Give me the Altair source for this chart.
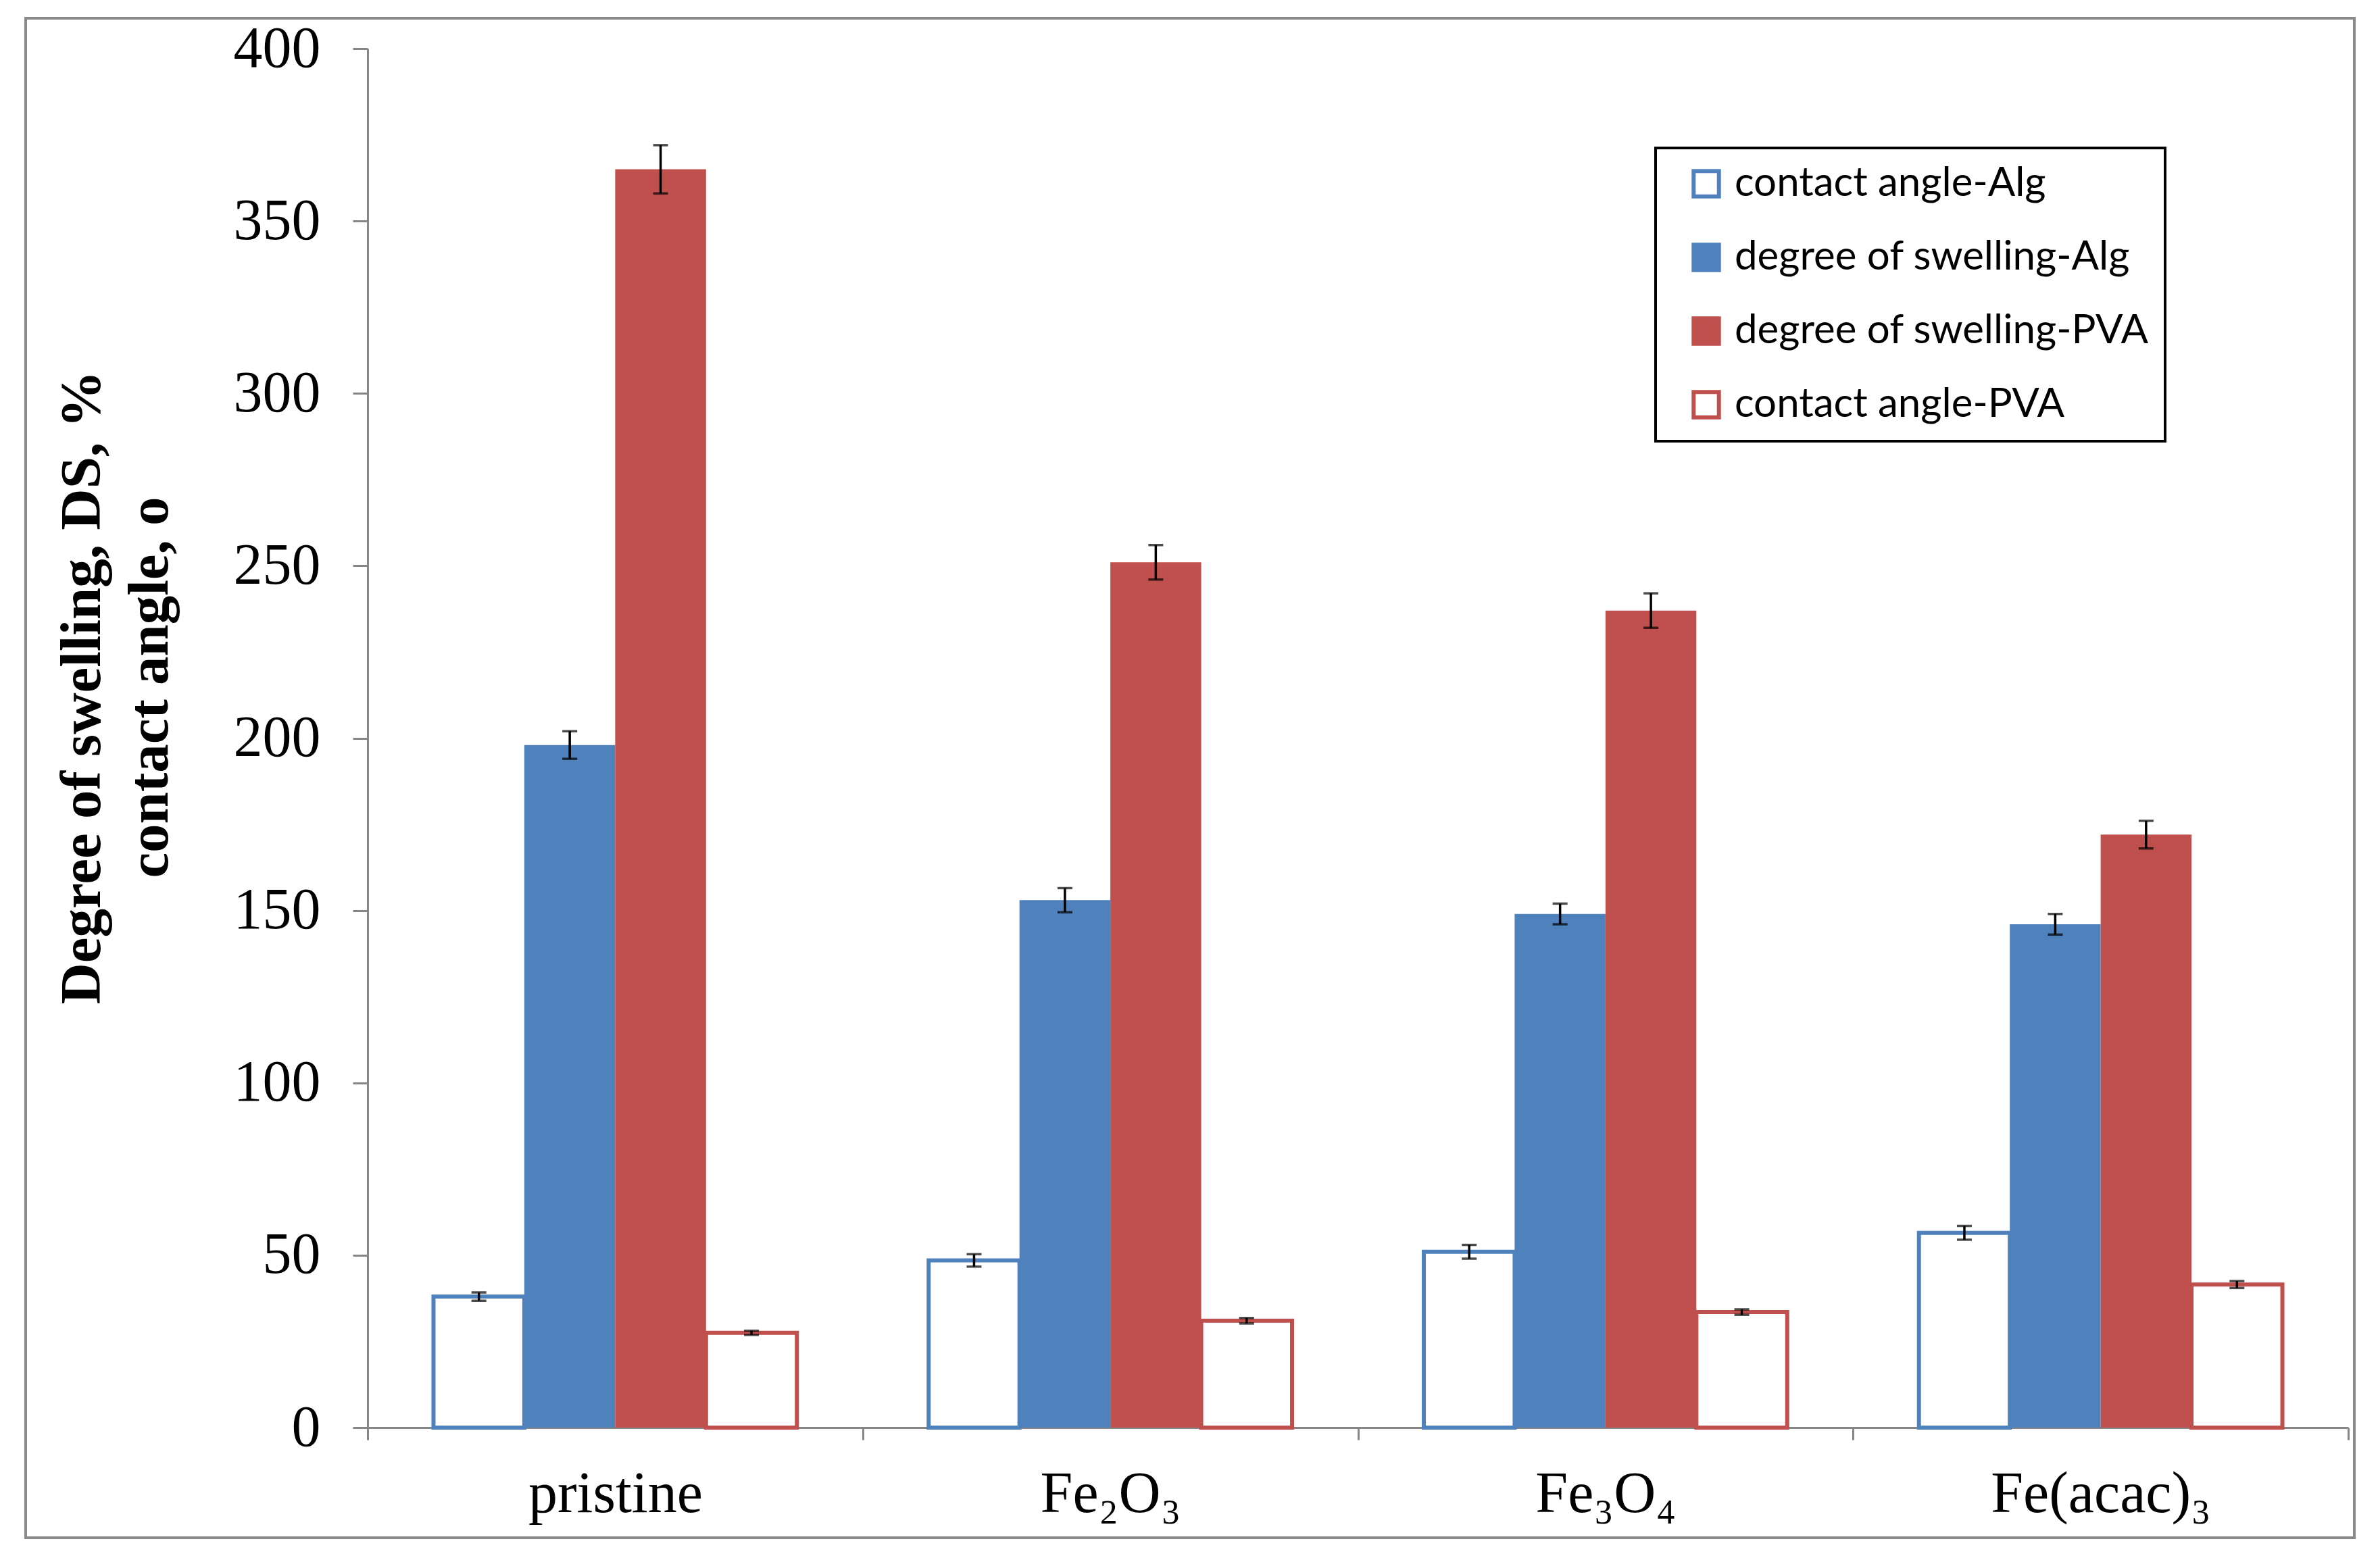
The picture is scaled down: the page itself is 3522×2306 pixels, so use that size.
import altair as alt
import pandas as pd

categories = ["pristine", "Fe₂O₃", "Fe₃O₄", "Fe(acac)₃"]
series = ["contact angle-Alg", "degree of swelling-Alg", "degree of swelling-PVA", "contact angle-PVA"]
hollow_series = ["contact angle-Alg", "contact angle-PVA"]
filled_series = ["degree of swelling-Alg", "degree of swelling-PVA"]

ca_alg = [38.0, 48.5, 51.0, 56.5]
ds_alg = [198.0, 153.0, 149.0, 146.0]
ds_pva = [365.0, 251.0, 237.0, 172.0]
ca_pva = [27.5, 31.0, 33.5, 41.5]

ca_alg_err = [1.2, 1.8, 2.0, 2.0]
ds_alg_err = [4.0, 3.5, 3.0, 3.0]
ds_pva_err = [7.0, 5.0, 5.0, 4.0]
ca_pva_err = [0.6, 0.8, 0.8, 1.0]

BLUE = "#4F81BD"
RED = "#C0504D"
GRAY = "#868686"

rows = []
for s, vals, errs in zip(series, [ca_alg, ds_alg, ds_pva, ca_pva],
                         [ca_alg_err, ds_alg_err, ds_pva_err, ca_pva_err]):
    for c, v, e in zip(categories, vals, errs):
        rows.append({"cat": c, "series": s, "value": v, "lo": v - e, "hi": v + e})
df = pd.DataFrame(rows)

x_enc = alt.X(
    "cat:N", sort=categories,
    scale=alt.Scale(paddingInner=0, paddingOuter=0),
    axis=alt.Axis(title=None, tickBand="extent", labelAngle=0, labelLimit=2000,
                  labelFont="Liberation Serif", labelFontSize=86, labelColor="black",
                  labelPadding=38, tickSize=18, tickColor=GRAY, tickWidth=3,
                  domainColor=GRAY, domainWidth=3),
)
xoff_enc = alt.XOffset("series:N", sort=series,
                       scale=alt.Scale(domain=series, paddingInner=0, paddingOuter=0.725))

y_enc = alt.Y(
    "value:Q",
    scale=alt.Scale(domain=[0, 400], nice=False),
    axis=alt.Axis(values=list(range(0, 401, 50)), grid=False,
                  tickSize=22, tickColor=GRAY, tickWidth=3,
                  domainColor=GRAY, domainWidth=3,
                  labelFont="Liberation Serif", labelFontSize=86, labelColor="black",
                  labelPadding=48,
                  title=["Degree of swelling, DS, %", "contact angle, o"],
                  titleFont="Liberation Serif", titleFontSize=85, titleFontWeight="bold",
                  titleColor="black", titleLineHeight=100, titlePadding=80,
                  titleY=945),
)

legend = alt.Legend(title=None)
fill_enc = alt.Fill("series:N", sort=series,
                    scale=alt.Scale(domain=series, range=["white", BLUE, RED, "white"]),
                    legend=legend)
stroke_enc = alt.Stroke("series:N", sort=series,
                        scale=alt.Scale(domain=series, range=[BLUE, BLUE, RED, RED]),
                        legend=legend)

base = alt.Chart(df)

filled_bars = base.transform_filter(
    alt.FieldOneOfPredicate(field="series", oneOf=filled_series)
).mark_bar(strokeWidth=0).encode(
    x=x_enc, xOffset=xoff_enc, y=y_enc, fill=fill_enc, stroke=stroke_enc,
)
hollow_bars = base.transform_filter(
    alt.FieldOneOfPredicate(field="series", oneOf=hollow_series)
).mark_bar(strokeWidth=6).encode(
    x=x_enc, xOffset=xoff_enc, y=y_enc, fill=fill_enc, stroke=stroke_enc,
)

err_rule = base.mark_rule(color="black", strokeWidth=3.5).encode(
    x=x_enc, xOffset=xoff_enc,
    y=alt.Y("lo:Q"), y2="hi:Q",
)
cap_lo = base.mark_tick(color="black", size=22, thickness=3.5).encode(
    x=x_enc, xOffset=xoff_enc, y=alt.Y("lo:Q"),
)
cap_hi = base.mark_tick(color="black", size=22, thickness=3.5).encode(
    x=x_enc, xOffset=xoff_enc, y=alt.Y("hi:Q"),
)

frame = alt.Chart(pd.DataFrame({"f": [0]})).mark_rect(
    filled=False, stroke="#8a8a8a", strokeWidth=4
).encode(
    x=alt.value(-506), x2=alt.value(2940), y=alt.value(-45), y2=alt.value(2204)
)

chart = alt.layer(frame, filled_bars, hollow_bars, err_rule, cap_lo, cap_hi).properties(
    width=2931, height=2041,
    autosize=alt.AutoSizeParams(type="none"),
    padding={"left": 536, "top": 64, "right": 39, "bottom": 185},
    background="white",
).configure_view(stroke=None).configure_legend(
    orient="none", legendX=1906, legendY=147,
    strokeColor="black", strokeWidth=4, fillColor="white",
    padding=23, symbolType="square", symbolSize=1400, symbolStrokeWidth=6,
    labelFont="Lato", labelFontSize=60, labelColor="black", labelLimit=1000,
    rowPadding=47, labelOffset=12, symbolOffset=22,
)

chart.save("out.html", embed_options={"renderer": "svg", "actions": False})
